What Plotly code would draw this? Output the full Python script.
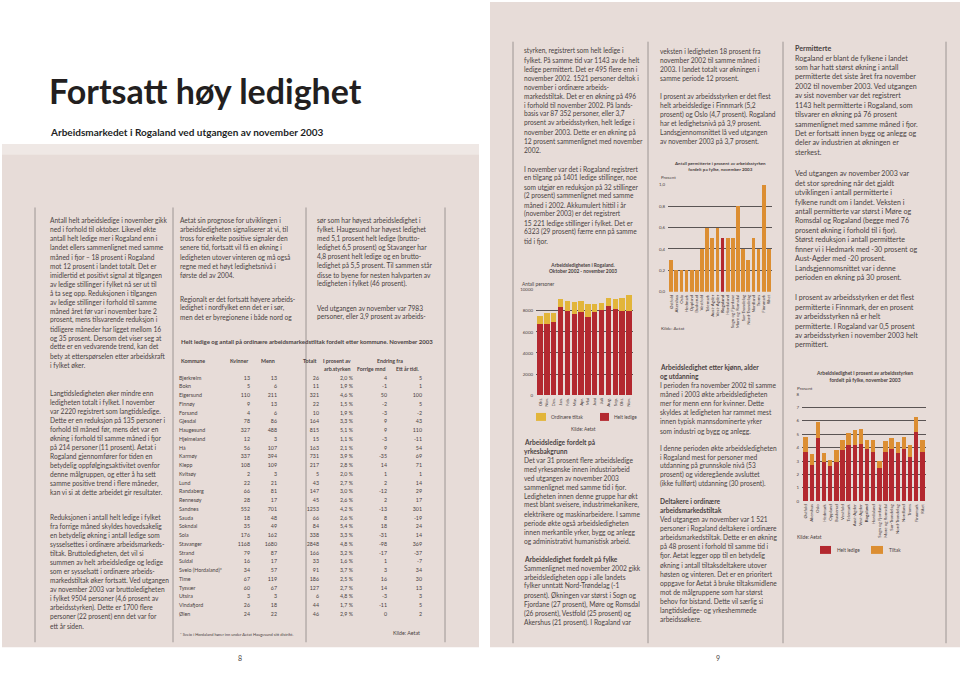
import plotly.graph_objects as go

W, H = 960, 679
def fx(p): return p / W
def fy(p): return 1 - p / H

FONT = "Lato, 'Open Sans', sans-serif"
TXT = "#4a4242"
BEIGE = "#e7dcd8"
BAND = "#efe8e5"
GRID = "#5a5454"
DIV = "#8c8484"
RED = "#b3282f"
YELLOW = "#e2b53a"
ORANGE = "#dc8e32"

# ---------------- data: chart 1 (Arbeidsledigheten i Rogaland) ----------------
periods = ["2002-10", "2002-11", "2002-12", "2003-01", "2003-02", "2003-03", "2003-04",
           "2003-05", "2003-06", "2003-07", "2003-08", "2003-09", "2003-10", "2003-11"]
month_labels = ["Okt.", "Nov.", "Des.", "Jan.", "Feb.", "Mar.", "Apr.", "Mai",
                "Juni", "Juli", "Aug.", "Sep.", "Okt.", "Nov."]
helt_ledige = [6750, 6765, 6970, 8330, 8010, 7700, 7890, 7440, 7850, 8080, 8490, 8200, 7950, 7983]
ordinaere_tiltak = [790, 1025, 820, 790, 890, 1130, 1070, 1200, 830, 690, 750, 950, 1260, 1521]
chart1_yticks = [0, 2000, 4000, 6000, 8000, 10000]

# ---------------- data: fylker ----------------
fylker = ["Østfold", "Akershus", "Oslo", "Hedmark", "Oppland", "Buskerud", "Vestfold",
          "Telemark", "Aust-Agder", "Vest-Agder", "Rogaland", "Hordaland",
          "Sogn og Fjordane", "Møre og Romsdal", "Sør-Trøndelag", "Nord-Trøndelag",
          "Nordland", "Troms", "Finnmark", "Riket"]
fylke_labels = [("<b>%s</b>" % f) if f == "Rogaland" else f for f in fylker]
permitterte_pct = [0.3, 0.2, 0.2, 0.2, 0.2, 0.2, 0.4, 0.6, 0.5, 0.6, 0.5, 0.5, 0.5, 0.8,
                   0.4, 0.3, 0.5, 0.4, 1.0, 0.4]
chart2_yticks = [0.0, 0.2, 0.4, 0.6, 0.8, 1.0]
chart2_yticktext = ["0,0", "0,2", "0,4", "0,6", "0,8", "1,0"]
helt_ledige_pct = [3.7, 2.7, 4.7, 2.9, 2.6, 2.9, 3.8, 4.2, 4.2, 4.3, 3.9, 3.7, 2.5, 3.7,
                   3.9, 3.6, 3.9, 3.3, 5.2, 3.7]
tiltak_pct = [1.1, 0.8, 1.2, 0.7, 0.5, 0.9, 0.8, 0.9, 1.1, 1.1, 0.7, 0.9, 0.5, 0.8,
              0.8, 0.8, 0.9, 0.9, 1.1, 0.9]
chart3_yticks = [0, 1, 2, 3, 4, 5, 6, 7, 8]

# ---------------- data: table ----------------
kommuner = ["Bjerkreim", "Bokn", "Eigersund", "Finnøy", "Forsand", "Gjesdal", "Haugesund",
            "Hjelmeland", "Hå", "Karmøy", "Klepp", "Kvitsøy", "Lund", "Randaberg",
            "Rennesøy", "Sandnes", "Sauda", "Sokndal", "Sola", "Stavanger", "Strand",
            "Suldal", "Sveio (Hordaland)*", "Time", "Tysvær", "Utsira", "Vindafjord", "Ølen"]
kvinner = [13, 5, 110, 9, 4, 78, 327, 12, 56, 337, 108, 2, 22, 66, 28, 552, 18, 35, 176,
           1168, 79, 16, 34, 67, 60, 3, 26, 24]
menn = [13, 6, 211, 13, 6, 86, 488, 3, 107, 394, 109, 3, 21, 81, 17, 701, 48, 49, 162,
        1680, 87, 17, 57, 119, 67, 3, 18, 22]
totalt = [26, 11, 321, 22, 10, 164, 815, 15, 163, 731, 217, 5, 43, 147, 45, 1253, 66, 84,
          338, 2848, 166, 33, 91, 186, 127, 6, 44, 46]
prosent_arbstyrken = [2.0, 1.9, 4.6, 1.5, 1.9, 3.3, 5.1, 1.1, 2.1, 3.9, 2.8, 2.0, 2.7, 3.0,
                      2.6, 4.2, 2.6, 5.4, 3.3, 4.8, 3.2, 1.6, 3.7, 2.5, 2.7, 4.8, 1.7, 2.9]
endring_forrige_mnd = [4, -1, 50, -2, -3, 9, 9, -3, 9, -35, 14, 1, 2, -12, 2, -13, 8, 18,
                       -31, -98, -17, 1, 3, 16, 14, -3, -11, 0]
endring_ett_aar = [5, 1, 100, 5, -2, 43, 110, -11, 54, 69, 71, 1, 14, 29, 17, 301, -19, 24,
                   14, 369, -37, -7, 34, 30, 13, 3, 5, 2]
table_header = ["Kommune", "Kvinner", "Menn", "Totalt", "I prosent av", "arb.styrken",
                "Endring fra", "Forrige mnd", "Ett år tidl."]

fig = go.Figure()

# chart 1
fig.add_trace(go.Bar(x=periods, y=helt_ledige, name="Helt ledige", marker=dict(color=RED, line=dict(width=0)),
                     width=0.8, xaxis="x", yaxis="y", hoverinfo="skip"))
fig.add_trace(go.Bar(x=periods, y=ordinaere_tiltak, name="Ordinære tiltak", marker=dict(color=YELLOW, line=dict(width=0)),
                     width=0.8, xaxis="x", yaxis="y", hoverinfo="skip"))
# chart 2
fig.add_trace(go.Bar(x=fylker, y=permitterte_pct, name="Permitterte",
                     marker=dict(color=[RED if f == "Rogaland" else ORANGE for f in fylker], line=dict(width=0)),
                     width=0.72, xaxis="x2", yaxis="y2", hoverinfo="skip"))
# chart 3
fig.add_trace(go.Bar(x=fylker, y=helt_ledige_pct, name="Helt ledige", marker=dict(color=RED, line=dict(width=0)),
                     width=0.72, xaxis="x3", yaxis="y3", hoverinfo="skip"))
fig.add_trace(go.Bar(x=fylker, y=tiltak_pct, name="Tiltak", marker=dict(color=ORANGE, line=dict(width=0)),
                     width=0.72, xaxis="x3", yaxis="y3", hoverinfo="skip"))

# table as text columns on its own axes
TF = dict(family=FONT, size=5.3, color=TXT)
table_cols = [
    (kommuner, 179, "middle right"),
    ([str(v) for v in kvinner], 250, "middle left"),
    ([str(v) for v in menn], 277, "middle left"),
    ([str(v) for v in totalt], 319, "middle left"),
    ([("%.1f" % v).replace(".", ",") + " %" for v in prosent_arbstyrken], 353, "middle left"),
    ([str(v) for v in endring_forrige_mnd], 387, "middle left"),
    ([str(v) for v in endring_ett_aar], 422, "middle left"),
]
for texts, xpos, tp in table_cols:
    fig.add_trace(go.Scatter(x=[xpos] * len(kommuner), y=kommuner, text=texts, mode="text",
                             textposition=tp, textfont=TF, xaxis="x4", yaxis="y4",
                             cliponaxis=False, hoverinfo="skip"))

tick_font = dict(family=FONT, size=4.4, color=TXT)
common_y = dict(showgrid=True, gridcolor=GRID, gridwidth=0.8, zeroline=False, showline=False,
                ticks="", tickfont=tick_font, ticklabelstandoff=2)
common_x = dict(type="category", showgrid=False, zeroline=False, showline=False, ticks="",
                tickangle=-90, tickfont=tick_font, ticklabelstandoff=1)

layout = dict(
    width=W, height=H, margin=dict(l=0, r=0, t=0, b=0),
    paper_bgcolor="white", plot_bgcolor="rgba(0,0,0,0)",
    showlegend=False, barmode="stack", font=dict(family=FONT, color=TXT),
    xaxis=dict(domain=[fx(536), fx(633)], range=[-0.6, 13.6], tickvals=periods, ticktext=month_labels, **common_x),
    yaxis=dict(domain=[fy(396), fy(290)], range=[0, 10000], tickvals=chart1_yticks,
               ticktext=[str(v) for v in chart1_yticks], **common_y),
    xaxis2=dict(domain=[fx(668), fx(772)], range=[-0.6, 19.6], tickvals=fylker, ticktext=fylke_labels,
                anchor="y2", **common_x),
    yaxis2=dict(domain=[fy(292), fy(184)], range=[0, 1.0], tickvals=chart2_yticks, ticktext=chart2_yticktext,
                anchor="x2", **common_y),
    xaxis3=dict(domain=[fx(802), fx(926)], range=[-0.6, 19.6], tickvals=fylker, ticktext=fylke_labels,
                anchor="y3", **common_x),
    yaxis3=dict(domain=[fy(503), fy(395)], range=[0, 8], tickvals=chart3_yticks,
                ticktext=[str(v) for v in chart3_yticks], anchor="x3", **common_y),
    xaxis4=dict(domain=[fx(170), fx(440)], range=[170, 440], visible=False, anchor="y4"),
    yaxis4=dict(domain=[fy(617 + 4.4), fy(379 - 4.4)], type="category", range=[len(kommuner) - 0.5, -0.5],
                visible=False, anchor="x4"),
)

shapes = []
def rect(x0, y0, x1, y1, color):
    shapes.append(dict(type="rect", xref="paper", yref="paper", x0=fx(x0), x1=fx(x1), y0=fy(y1), y1=fy(y0),
                       fillcolor=color, line=dict(width=0), layer="below"))
def vline(x, y0, y1):
    shapes.append(dict(type="line", xref="paper", yref="paper", x0=fx(x), x1=fx(x), y0=fy(y1), y1=fy(y0),
                       line=dict(color=DIV, width=0.8), layer="below"))

rect(2, 143, 479, 650, BEIGE)
rect(2, 143, 479, 154, BAND)
rect(490, 0, 960, 650, BEIGE)
for x in (35, 173, 306, 445):
    vline(x, 207, 645)
for x in (513, 648, 783, 946):
    vline(x, 40, 646)
# legend keys
rect(536, 414, 546, 422, YELLOW)
rect(600, 414, 609, 422, RED)
rect(820, 548, 831, 556, RED)
rect(871, 548, 883, 556, ORANGE)

ann = []
def text(x, y, s, size=7.0, bold=False, xanchor="left", yanchor="middle", color=TXT, align="left"):
    if bold:
        s = "<b>%s</b>" % s
    ann.append(dict(x=fx(x), y=fy(y), xref="paper", yref="paper", text=s, showarrow=False,
                    xanchor=xanchor, yanchor=yanchor, align=align,
                    font=dict(family=FONT, size=size, color=color)))

BODY = 6.6
def para(x, y_first, lines, size=BODY, step=9.1):
    for i, s in enumerate(lines):
        text(x, y_first + i * step, s, size=size)

# title
text(47, 89, "Fortsatt høy ledighet", size=34, bold=True, color="#231f1f")
text(48, 131, "Arbeidsmarkedet i Rogaland ved utgangen av november 2003", size=10, bold=True, color="#231f1f")

# left page column 1
para(48, 220, [
    "Antall helt arbeidsledige i november gikk",
    "ned i forhold til oktober. Likevel økte",
    "antall helt ledige mer i Rogaland enn i",
    "landet ellers sammenlignet med samme",
    "måned i fjor – 18 prosent i Rogaland",
    "mot 12 prosent i landet totalt. Det er",
    "imidlertid et positivt signal at tilgangen",
    "av ledige stillinger i fylket nå ser ut til",
    "å ta seg opp. Reduksjonen i tilgangen",
    "av ledige stillinger i forhold til samme",
    "måned året før var i november bare 2",
    "prosent, mens tilsvarende reduksjon i",
    "tidligere måneder har ligget mellom 16",
    "og 35 prosent. Dersom det viser seg at",
    "dette er en vedvarende trend, kan det",
    "bety at etterspørselen etter arbeidskraft",
    "i fylket øker."])
para(48, 394, [
    "Langtidsledigheten øker mindre enn",
    "ledigheten totalt i fylket. I november",
    "var 2220 registrert som langtidsledige.",
    "Dette er en reduksjon på 135 personer i",
    "forhold til måned før, mens det var en",
    "økning i forhold til samme måned i fjor",
    "på 214 personer (11 prosent). Aetat i",
    "Rogaland gjennomfører for tiden en",
    "betydelig oppfølgingsaktivitet ovenfor",
    "denne målgruppen, og etter å ha sett",
    "samme positive trend i flere måneder,",
    "kan vi si at dette arbeidet gir resultater."])
para(48, 519, [
    "Reduksjonen i antall helt ledige i fylket",
    "fra forrige måned skyldes hovedsakelig",
    "en betydelig økning i antall ledige som",
    "sysselsettes i ordinære arbeidsmarkeds-",
    "tiltak. Bruttoledigheten, det vil si",
    "summen av helt arbeidsledige og ledige",
    "som er sysselsatt i ordinære arbeids-",
    "markedstiltak øker fortsatt. Ved utgangen",
    "av november 2003 var bruttoledigheten",
    "i fylket 9504 personer (4,6 prosent av",
    "arbeidsstyrken). Dette er 1700 flere",
    "personer (22 prosent) enn det var for",
    "ett år siden."])
# left page column 2
para(178, 220, [
    "Aetat sin prognose for utviklingen i",
    "arbeidsledigheten signaliserer at vi, til",
    "tross for enkelte positive signaler den",
    "senere tid, fortsatt vil få en økning i",
    "ledigheten utover vinteren og må også",
    "regne med et høyt ledighetsnivå i",
    "første del av 2004."])
para(178, 299, [
    "Regionalt er det fortsatt høyere arbeids-",
    "ledighet i nordfylket enn det er i sør,",
    "men det er byregionene i både nord og"])
# left page column 3
para(315, 220, [
    "sør som har høyest arbeidsledighet i",
    "fylket. Haugesund har høyest ledighet",
    "med 5,1 prosent helt ledige (brutto-",
    "ledighet 6,5 prosent) og Stavanger har",
    "4,8 prosent helt ledige og en brutto-",
    "ledighet på 5,5 prosent. Til sammen står",
    "disse to byene for nesten halvparten av",
    "ledigheten i fylket (46 prosent)."])
para(315, 308, [
    "Ved utgangen av november var 7983",
    "personer, eller 3,9 prosent av arbeids-"])

# table texts
text(179, 342, "Helt ledige og antall på ordinære arbeidsmarkedstiltak fordelt etter kommune. November 2003",
     size=6, bold=True)
hs = 5.3
text(179, 362, table_header[0], size=hs, bold=True)
text(250, 362, table_header[1], size=hs, bold=True, xanchor="right")
text(277, 362, table_header[2], size=hs, bold=True, xanchor="right")
text(319, 362, table_header[3], size=hs, bold=True, xanchor="right")
text(353, 362, table_header[4], size=hs, bold=True, xanchor="right")
text(353, 370, table_header[5], size=hs, bold=True, xanchor="right")
text(390, 362, table_header[6], size=hs, bold=True, xanchor="center")
text(387, 370, table_header[7], size=hs, bold=True, xanchor="right")
text(422, 370, table_header[8], size=hs, bold=True, xanchor="right")
text(178, 637, "* Sveio i Hordaland hører inn under Aetat Haugesund sitt distrikt.", size=4)
text(422, 636, "Kilde: Aetat", size=5.3, xanchor="right")

# right page column 1
para(522, 49, [
    "styrken, registrert som helt ledige i",
    "fylket. På samme tid var 1143 av de helt",
    "ledige permittert. Det er 495 flere enn i",
    "november 2002. 1521 personer deltok i",
    "november i ordinære arbeids-",
    "markedstiltak. Det er en økning på 496",
    "i forhold til november 2002. På lands-",
    "basis var 87 352 personer, eller 3,7",
    "prosent av arbeidsstyrken, helt ledige i",
    "november 2003. Dette er en økning på",
    "12 prosent sammenlignet med november",
    "2002."])
para(522, 168, [
    "I november var det i Rogaland registrert",
    "en tilgang på 1401 ledige stillinger, noe",
    "som utgjør en reduksjon på 32 stillinger",
    "(2 prosent) sammenlignet med samme",
    "måned i 2002. Akkumulert hittil i år",
    "(november 2003) er det registrert",
    "15 221 ledige stillinger i fylket. Det er",
    "6323 (29 prosent) færre enn på samme",
    "tid i fjor."])
para(522, 443, [
    "<b>Arbeidsledige fordelt på</b>",
    "<b>yrkesbakgrunn</b>",
    "Det var 31 prosent flere arbeidsledige",
    "med yrkesønske innen industriarbeid",
    "ved utgangen av november 2003",
    "sammenlignet med samme tid i fjor.",
    "Ledigheten innen denne gruppe har økt",
    "mest blant sveisere, industrimekanikere,",
    "elektrikere og maskinarbeidere. I samme",
    "periode økte også arbeidsledigheten",
    "innen merkantile yrker, bygg og anlegg",
    "og administrativt humanistisk arbeid."])
para(522, 561, [
    "<b>Arbeidsledighet fordelt på fylke</b>",
    "Sammenlignet med november 2002 gikk",
    "arbeidsledigheten opp i alle landets",
    "fylker unntatt Nord-Trøndelag (-1",
    "prosent). Økningen var størst i Sogn og",
    "Fjordane (27 prosent), Møre og Romsdal",
    "(26 prosent), Vestfold (25 prosent) og",
    "Akershus (21 prosent). I Rogaland var"])

# right page column 2
para(658, 49, [
    "veksten i ledigheten 18 prosent fra",
    "november 2002 til samme måned i",
    "2003. I landet totalt var økningen i",
    "samme periode 12 prosent."])
para(658, 95, [
    "I prosent av arbeidsstyrken er det flest",
    "helt arbeidsledige i Finnmark (5,2",
    "prosent) og Oslo (4,7 prosent). Rogaland",
    "har et ledighetsnivå på 3,9 prosent.",
    "Landsgjennomsnittet lå ved utgangen",
    "av november 2003 på 3,7 prosent."])
para(658, 368, [
    "<b>Arbeidsledighet etter kjønn, alder</b>",
    "<b>og utdanning</b>",
    "I perioden fra november 2002 til samme",
    "måned i 2003 økte arbeidsledigheten",
    "mer for menn enn for kvinner. Dette",
    "skyldes at ledigheten har rammet mest",
    "innen typisk mannsdominerte yrker",
    "som industri og bygg og anlegg."])
para(658, 449, [
    "I denne perioden økte arbeidsledigheten",
    "i Rogaland mest for personer med",
    "utdanning på grunnskole nivå (53",
    "prosent) og videregående avsluttet",
    "(ikke fullført) utdanning (30 prosent)."])
para(658, 503, [
    "<b>Deltakere i ordinære</b>",
    "<b>arbeidsmarkedstiltak</b>",
    "Ved utgangen av november var 1 521",
    "personer i Rogaland deltakere i ordinære",
    "arbeidsmarkedstiltak. Dette er en økning",
    "på 48 prosent i forhold til samme tid i",
    "fjor. Aetat legger opp til en betydelig",
    "økning i antall tiltaksdeltakere utover",
    "høsten og vinteren. Det er en prioritert",
    "oppgave for Aetat å bruke tiltaksmidlene",
    "mot de målgruppene som har størst",
    "behov for bistand. Dette vil særlig si",
    "langtidsledige- og yrkeshemmede",
    "arbeidssøkere."])

# right page column 3
C3 = 7.1
para(793, 47, [
    "<b>Permitterte</b>",
    "Rogaland er blant de fylkene i landet",
    "som har hatt størst økning i antall",
    "permitterte det siste året fra november",
    "2002 til november 2003. Ved utgangen",
    "av sist november var det registrert",
    "1143 helt permitterte i Rogaland, som",
    "tilsvarer en økning på 76 prosent",
    "sammenlignet med samme måned i fjor.",
    "Det er fortsatt innen bygg og anlegg og",
    "deler av industrien at økningen er",
    "sterkest."], size=C3, step=9.5)
para(793, 173, [
    "Ved utgangen av november 2003 var",
    "det stor spredning når det gjaldt",
    "utviklingen i antall permitterte i",
    "fylkene rundt om i landet. Veksten i",
    "antall permitterte var størst i Møre og",
    "Romsdal og Rogaland (begge med 76",
    "prosent økning i forhold til i fjor).",
    "Størst reduksjon i antall permitterte",
    "finner vi i Hedmark med -30 prosent og",
    "Aust-Agder med -20 prosent.",
    "Landsgjennomsnittet var i denne",
    "perioden en økning på 30 prosent."], size=C3, step=9.5)
para(793, 298, [
    "I prosent av arbeidsstyrken er det flest",
    "permitterte i Finnmark, der en prosent",
    "av arbeidsstyrken nå er helt",
    "permitterte. I Rogaland var 0,5 prosent",
    "av arbeidsstyrken i november 2003 helt",
    "permittert."], size=C3, step=9.5)

# chart 1 texts
text(583, 268, "Arbeidsledigheten i Rogaland.<br>Oktober 2002 - november 2003", size=4.8, bold=True,
     xanchor="center", align="center")
text(520, 284, "Antall personer", size=4.8)
text(549, 418, "Ordinære tiltak", size=4.8)
text(612, 418, "Helt ledige", size=4.8)
text(583, 430, "Kilde: Aetat", size=4.8, xanchor="center")
# chart 2 texts
text(720, 166, "Antall permitterte i prosent av arbeidsstyrken<br>fordelt på fylke, november 2003",
     size=4.5, bold=True, xanchor="center", align="center")
text(659, 177, "Prosent", size=4.4)
text(659, 328, "Kilde: Aetat", size=4.6)
# chart 3 texts
text(864, 377, "Arbeidsledighet i prosent av arbeidsstyrken<br>fordelt på fylke, november 2003",
     size=5.0, bold=True, xanchor="center", align="center")
text(795, 389, "Prosent", size=4.6)
text(795, 539, "Kilde: Aetat", size=4.8)
text(835, 552, "Helt ledige", size=4.8)
text(887, 552, "Tiltak", size=4.8)

# page numbers
text(240, 661, "8", size=7, xanchor="center")
text(718, 661, "9", size=7, xanchor="center")

layout["shapes"] = shapes
layout["annotations"] = ann
fig.update_layout(**layout)
fig.write_html("out.html", config={"displayModeBar": False},
               post_script="document.body.style.margin='0';document.body.style.overflow='hidden';")
